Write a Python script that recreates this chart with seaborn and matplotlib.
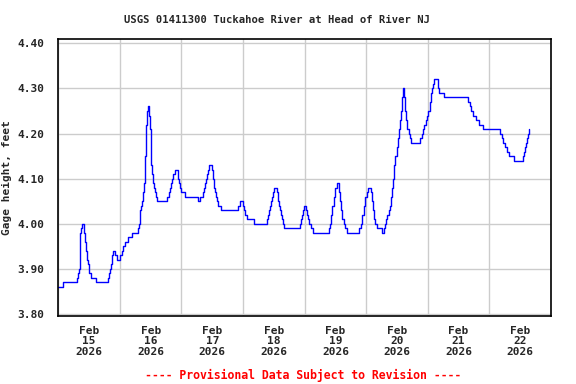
import pandas as pd
import seaborn as sns
import matplotlib
matplotlib.use("Agg")
import matplotlib.pyplot as plt
import matplotlib.dates as mdates

# gage readings, hours after 2026-02-15 00:00 (step changes only)
hours = [0.0, 1.9, 7.4, 7.8, 8.1, 8.6, 9.0, 9.3, 10.1, 10.5, 10.8, 11.2, 11.6, 11.8, 12.1, 12.6,
         14.7, 19.5, 19.9, 20.1, 20.5, 20.8, 21.3, 22.1, 23.0, 24.0, 24.9, 25.3, 25.9, 27.0, 28.8,
         31.0, 31.4, 31.7, 31.9, 32.3, 32.6, 33.0, 33.3, 33.7, 33.9, 34.2, 34.3, 34.6, 34.9, 35.3,
         35.7, 36.0, 36.2, 36.5, 36.8, 37.3, 37.7, 38.1, 38.3, 42.5, 43.2, 43.6, 43.9, 44.3, 44.8,
         45.6, 46.5, 46.7, 47.0, 47.4, 47.9, 49.5, 54.5, 55.3, 56.4, 56.8, 57.1, 57.5, 57.9, 58.3,
         58.8, 60.0, 60.4, 60.7, 61.0, 61.4, 61.8, 62.2, 63.4, 70.1, 70.8, 72.0, 72.3, 72.7, 73.6,
         76.4, 81.4, 81.8, 82.2, 82.5, 82.9, 83.3, 83.6, 84.0, 85.2, 85.6, 86.0, 86.4, 86.8, 87.1,
         87.5, 88.0, 94.0, 94.4, 94.8, 95.2, 95.6, 96.6, 97.0, 97.4, 97.8, 98.4, 99.3, 105.6, 106.0,
         106.3, 106.7, 107.3, 107.8, 108.5, 109.5, 109.9, 110.2, 110.6, 111.2, 111.7, 112.6, 117.3,
         117.9, 118.4, 119.0, 119.6, 120.3, 120.8, 121.7, 122.1, 122.5, 123.0, 123.6, 124.3, 124.9,
         126.2, 127.0, 127.4, 127.8, 128.2, 128.7, 129.1, 129.6, 130.0, 130.5, 131.0, 131.4, 131.8,
         132.2, 132.7, 133.2, 133.6, 134.0, 134.2, 134.9, 135.2, 135.6, 136.0, 136.5, 137.0, 137.5,
         140.8, 141.6, 142.1, 142.6, 143.1, 143.8, 144.1, 144.7, 145.2, 145.7, 146.1, 146.5, 147.8,
         148.2, 150.4, 159.5, 160.4, 161.0, 161.7, 162.7, 164.0, 165.6, 172.3, 172.8, 173.4, 174.1,
         174.7, 175.7, 177.4, 180.9, 181.5, 181.9, 182.3, 182.6, 183.0, 183.4]
gage_ft = [3.86, 3.87, 3.88, 3.89, 3.90, 3.98, 3.99, 4.00, 3.98, 3.96, 3.94, 3.92, 3.91, 3.90, 3.89, 3.88,
           3.87, 3.88, 3.89, 3.90, 3.91, 3.93, 3.94, 3.93, 3.92, 3.93, 3.94, 3.95, 3.96, 3.97, 3.98,
           3.99, 4.00, 4.01, 4.03, 4.04, 4.05, 4.07, 4.09, 4.11, 4.15, 4.19, 4.22, 4.25, 4.26, 4.24,
           4.21, 4.16, 4.13, 4.11, 4.09, 4.08, 4.07, 4.06, 4.05, 4.06, 4.07, 4.08, 4.09, 4.10, 4.11,
           4.12, 4.11, 4.10, 4.09, 4.08, 4.07, 4.06, 4.05, 4.06, 4.07, 4.08, 4.09, 4.10, 4.11, 4.12,
           4.13, 4.12, 4.10, 4.08, 4.07, 4.06, 4.05, 4.04, 4.03, 4.04, 4.05, 4.04, 4.03, 4.02, 4.01,
           4.00, 4.01, 4.02, 4.03, 4.04, 4.05, 4.06, 4.07, 4.08, 4.07, 4.05, 4.04, 4.03, 4.02, 4.01,
           4.00, 3.99, 4.00, 4.01, 4.02, 4.03, 4.04, 4.03, 4.02, 4.01, 4.00, 3.99, 3.98, 3.99, 4.00,
           4.02, 4.04, 4.06, 4.08, 4.09, 4.07, 4.05, 4.03, 4.01, 4.00, 3.99, 3.98, 3.99,
           4.00, 4.02, 4.04, 4.06, 4.07, 4.08, 4.07, 4.05, 4.03, 4.01, 4.00, 3.99, 3.99,
           3.98, 3.99, 4.00, 4.01, 4.02, 4.03, 4.04, 4.06, 4.08, 4.10, 4.13, 4.15, 4.17,
           4.19, 4.21, 4.23, 4.25, 4.28, 4.30, 4.28, 4.25, 4.23, 4.21, 4.20, 4.19, 4.18,
           4.19, 4.20, 4.21, 4.22, 4.23, 4.24, 4.25, 4.27, 4.29, 4.30, 4.31, 4.32, 4.30,
           4.29, 4.28, 4.27, 4.26, 4.25, 4.24, 4.23, 4.22, 4.21, 4.20, 4.19, 4.18, 4.17,
           4.16, 4.15, 4.14, 4.15, 4.16, 4.17, 4.18, 4.19, 4.20, 4.21]

start = pd.Timestamp("2026-02-15 00:00")
end = pd.Timestamp("2026-02-23 00:00")
df = pd.DataFrame({"time": start + pd.to_timedelta(hours, unit="h"), "gage": gage_ft})

sns.set_style("white")
plt.rcParams["font.family"] = ["DejaVu Sans Mono"]
plt.rcParams["font.weight"] = "bold"

fig = plt.figure(figsize=(5.76, 3.84), dpi=100)
ax = fig.add_axes([0.1012, 0.1771, 0.8554, 0.7206])

sns.lineplot(data=df, x="time", y="gage", drawstyle="steps-post", color="#0000ff",
             linewidth=1.0, ax=ax)

ax.set_xlim(start, end)
ax.set_ylim(3.7956, 4.409)

# grid at midnight, labels at noon
ax.xaxis.set_major_locator(mdates.DayLocator())
ax.xaxis.set_minor_locator(mdates.HourLocator(byhour=[12]))
ax.xaxis.set_major_formatter(plt.NullFormatter())
ax.xaxis.set_minor_formatter(mdates.DateFormatter("%b\n%d\n%Y"))
ax.tick_params(axis="x", which="both", length=0, pad=7, labelsize=8)
ax.set_yticks([3.8, 3.9, 4.0, 4.1, 4.2, 4.3, 4.4])
ax.yaxis.set_major_formatter(plt.FormatStrFormatter("%.2f"))
ax.tick_params(axis="y", length=0, pad=10, labelsize=8)
for lab in ax.get_xticklabels(minor=True):
    lab.set_linespacing(1.05)

ax.grid(True, which="major", color="#cccccc", linewidth=1.0)
ax.set_axisbelow(True)
for s in ax.spines.values():
    s.set_color("black")
    s.set_linewidth(1.2)

ax.set_xlabel("")
ax.set_ylabel("Gage height, feet", fontsize=8, fontweight="bold")
ax.yaxis.set_label_coords(-0.094, 0.5)

fig.text(0.481, 0.948, "USGS 01411300 Tuckahoe River at Head of River NJ",
         ha="center", va="center", fontsize=7.6, fontweight="bold")
fig.text(0.527, 0.023, "---- Provisional Data Subject to Revision ----",
         ha="center", va="center", fontsize=8.3, fontweight="bold", color="#ff0000")

fig.savefig("out.png", dpi=100)
